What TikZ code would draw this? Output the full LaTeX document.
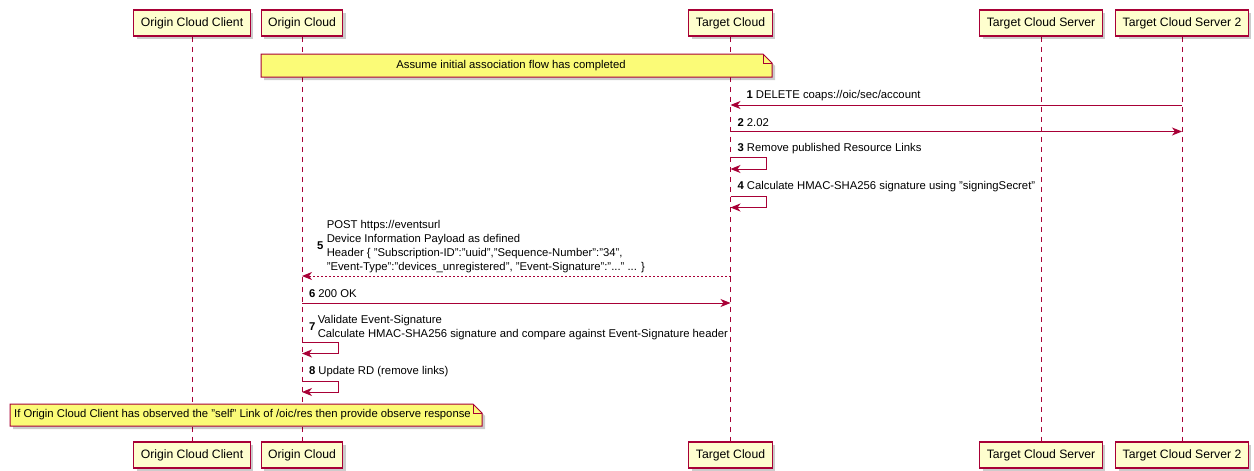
\documentclass[tikz,border=0pt]{standalone}
\usepackage{fontspec}
\setmainfont{Liberation Sans}
\usetikzlibrary{arrows.meta,shadows,backgrounds}
\definecolor{seqline}{HTML}{A80036}
\definecolor{seqbox}{HTML}{FEFECE}
\definecolor{seqnote}{HTML}{FBFB77}

\begin{document}
\begin{tikzpicture}
[ x=1pt, y=-1pt, line width=1pt
, participant/.style={rectangle, draw=seqline, fill=seqbox, line width=1.1pt, minimum height=26pt, inner xsep=7pt, inner ysep=0pt, font=\fontsize{12.2}{14}\selectfont, drop shadow={shadow xshift=3pt, shadow yshift=-3pt, fill=black, opacity=0.2}}
, lifeline/.style={draw=seqline, line width=0.9pt, dash pattern=on 5pt off 5pt}
, message/.style={draw=seqline, -{Stealth[length=10pt, width=8pt, inset=3pt]}}
, reply/.style={message, dash pattern=on 2pt off 2pt}
, msglabel/.style={anchor=west, inner sep=0pt, font=\fontsize{11.3}{14}\selectfont}
, notetext/.style={inner sep=0pt, font=\fontsize{11.3}{14}\selectfont}
, notebox/.style={draw=seqline, fill=seqnote, line width=1pt, drop shadow={shadow xshift=3pt, shadow yshift=-3pt, fill=black, opacity=0.2}}
]
\useasboundingbox (0,0) rectangle (1254,471);

% Participants, top row:
\node (occT)  [participant] at (192,23)    {Origin Cloud Client};
\node (ocT)   [participant] at (302,23)    {Origin Cloud};
\node (tcT)   [participant] at (730.5,23)  {Target Cloud};
\node (tcsT)  [participant] at (1041,23)   {Target Cloud Server};
\node (tcs2T) [participant] at (1182,23)   {Target Cloud Server 2};
% Participants, bottom row:
\node (occB)  [participant] at (192,455)   {Origin Cloud Client};
\node (ocB)   [participant] at (302,455)   {Origin Cloud};
\node (tcB)   [participant] at (730.5,455) {Target Cloud};
\node (tcsB)  [participant] at (1041,455)  {Target Cloud Server};
\node (tcs2B) [participant] at (1182,455)  {Target Cloud Server 2};

\begin{scope}[on background layer]
\draw [lifeline] (occT.south) -- (occB.north);
\draw [lifeline] (ocT.south) -- (ocB.north);
\draw [lifeline] (tcT.south) -- (tcB.north);
\draw [lifeline] (tcsT.south) -- (tcsB.north);
\draw [lifeline] (tcs2T.south) -- (tcs2B.north);
\end{scope}

% Notes:
\node (assume) [notetext, minimum width=511pt, minimum height=23pt] at (511,65.5) {Assume initial association flow has completed};
\node (observe) [notetext] at (242.5,415) {If Origin Cloud Client has observed the "self" Link of /oic/res then provide observe response};
\begin{scope}[on background layer]
\draw [notebox] (261,54) -- (763,54) -- (772,63) -- (772,77) -- (261,77) -- cycle;
\draw [seqline] (763,54) |- (772,63);
\draw [notebox] (10,404) -- (473,404) -- (482,413) -- (482,426) -- (10,426) -- cycle;
\draw [seqline] (473,404) |- (482,413);
\end{scope}

% Messages:
\node (m1) [msglabel] at (746,96) {\textbf{1} DELETE coaps://oic/sec/account};
\draw [message] (tcs2T |- 0,105) -- (tcT |- 0,105);
\node (m2) [msglabel] at (737,122.5) {\textbf{2} 2.02};
\draw [message] (tcT |- 0,131.5) -- (tcs2T |- 0,131.5);
\node (m3) [msglabel] at (737,149) {\textbf{3} Remove published Resource Links};
\draw [message] (tcT |- 0,157) -- ++(36,0) -- ++(0,12) -- (tcT |- 0,169);
\node (m4) [msglabel] at (737,187) {\textbf{4} Calculate HMAC-SHA256 signature using "signingSecret"};
\draw [message] (tcT |- 0,196) -- ++(36,0) -- ++(0,11.5) -- (tcT |- 0,207.5);
\node (m5) [msglabel] at (316.5,246.5) {\textbf{5}\hspace{3.5pt}\begin{tabular}{@{}l@{}}
POST https://eventsurl\\
Device Information Payload as defined\\
Header \{ "Subscription-ID":"uuid","Sequence-Number":"34",\\
"Event-Type":"devices\_unregistered", "Event-Signature":"..." ... \}
\end{tabular}};
\draw [reply] (tcT |- 0,276) -- (ocT |- 0,276);
\node (m6) [msglabel] at (308.5,294) {\textbf{6} 200 OK};
\draw [message] (ocT |- 0,303) -- (tcT |- 0,303);
\node (m7) [msglabel] at (308.5,327.5) {\textbf{7}\hspace{2.5pt}\begin{tabular}{@{}l@{}}
Validate Event-Signature\\
Calculate HMAC-SHA256 signature and compare against Event-Signature header
\end{tabular}};
\draw [message] (ocT |- 0,342) -- ++(36,0) -- ++(0,11.5) -- (ocT |- 0,353.5);
\node (m8) [msglabel] at (308.5,371.5) {\textbf{8} Update RD (remove links)};
\draw [message] (ocT |- 0,381) -- ++(36,0) -- ++(0,11) -- (ocT |- 0,392);
\end{tikzpicture}
\end{document}
